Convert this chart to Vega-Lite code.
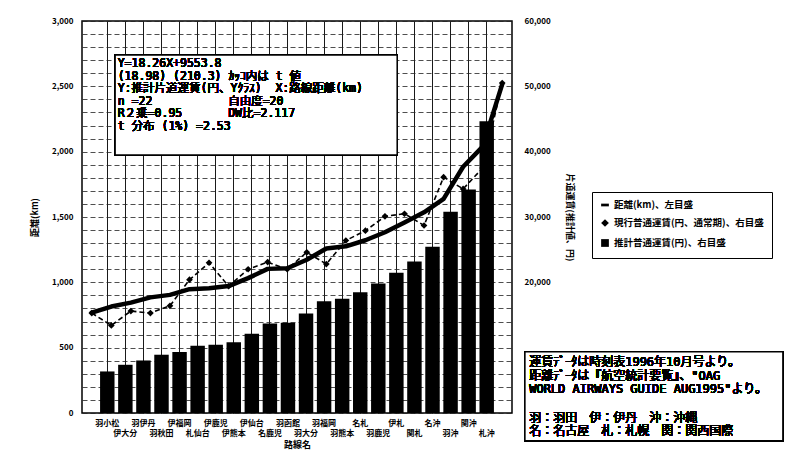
{
  "$schema": "https://vega.github.io/schema/vega-lite/v6.json",
  "width": 430,
  "height": 392,
  "autosize": "none",
  "padding": {"left": 82, "top": 21, "right": 273, "bottom": 51},
  "background": "white",
  "config": {
    "font": "Noto Sans CJK JP",
    "view": {"stroke": "black", "strokeWidth": 1.5},
    "axis": {"labelFont": "Noto Sans CJK JP", "labelFontWeight": "bold", "labelFontSize": 8, "labelColor": "black", "titleFont": "Noto Sans CJK JP", "titleFontWeight": "bold", "titleColor": "black", "titleFontSize": 9}
  },
  "data": {"values": [
    {"route": "羽小松", "distance": 318, "current": 15300, "estimate": 15360},
    {"route": "伊大分", "distance": 369, "current": 13400, "estimate": 16290},
    {"route": "羽伊丹", "distance": 402, "current": 15600, "estimate": 16890},
    {"route": "羽秋田", "distance": 446, "current": 15300, "estimate": 17700},
    {"route": "伊福岡", "distance": 467, "current": 16400, "estimate": 18080},
    {"route": "札仙台", "distance": 515, "current": 20400, "estimate": 18960},
    {"route": "伊鹿児", "distance": 523, "current": 23000, "estimate": 19100},
    {"route": "伊熊本", "distance": 541, "current": 19400, "estimate": 19430},
    {"route": "伊仙台", "distance": 607, "current": 22000, "estimate": 20640},
    {"route": "名鹿児", "distance": 685, "current": 23100, "estimate": 22060},
    {"route": "羽函館", "distance": 690, "current": 22000, "estimate": 22150},
    {"route": "羽大分", "distance": 761, "current": 24600, "estimate": 23450},
    {"route": "羽福岡", "distance": 856, "current": 22800, "estimate": 25180},
    {"route": "羽熊本", "distance": 874, "current": 26400, "estimate": 25510},
    {"route": "名札", "distance": 925, "current": 27900, "estimate": 26440},
    {"route": "羽鹿児", "distance": 992, "current": 30100, "estimate": 27670},
    {"route": "伊札", "distance": 1074, "current": 30500, "estimate": 29160},
    {"route": "関札", "distance": 1159, "current": 28700, "estimate": 30720},
    {"route": "名沖", "distance": 1272, "current": 36100, "estimate": 32780},
    {"route": "羽沖", "distance": 1541, "current": 34300, "estimate": 37690},
    {"route": "関沖", "distance": 1710, "current": 37500, "estimate": 40780},
    {"route": "札沖", "distance": 2233, "current": 50500, "estimate": 50330}
  ]},
  "layer": [
    {
      "mark": {"type": "bar", "color": "black"},
      "encoding": {
        "x": {"field": "route", "type": "nominal", "sort": null,
          "scale": {"paddingInner": 0.2, "paddingOuter": 1.17},
          "axis": {"title": "路線名", "labelAngle": 0, "labelPadding": 6, "ticks": false, "domain": false,
            "labelOverlap": false, "labelLineHeight": 10, "labelBaseline": "top", "titlePadding": 3,
            "labelExpr": "round(datum.index * 21) % 2 == 1 ? ['\u00a0', datum.label] : datum.label",
            "grid": true, "gridColor": "black", "gridWidth": 0.9}},
        "y": {"field": "distance", "type": "quantitative",
          "scale": {"domain": [0, 3000], "nice": false},
          "axis": {"title": "距離(km)", "orient": "left", "values": [0,100,200,300,400,500,600,700,800,900,1000,1100,1200,1300,1400,1500,1600,1700,1800,1900,2000,2100,2200,2300,2400,2500,2600,2700,2800,2900,3000],
            "labelExpr": "datum.value % 500 === 0 ? format(datum.value, ',') : ''",
            "ticks": false, "labelPadding": 9, "domain": false, "titlePadding": 12,
            "grid": true, "gridColor": "#222", "gridDash": [5, 3], "gridWidth": 0.8}}
      }
    },
    {
      "encoding": {
        "x": {"field": "route", "type": "nominal", "sort": null,
          "scale": {"paddingInner": 0.2, "paddingOuter": 1.17}, "axis": null}
      },
      "layer": [
        {
          "mark": {"type": "line", "color": "black", "strokeWidth": 4.5, "strokeCap": "round", "strokeJoin": "round"},
          "encoding": {
            "y": {"field": "estimate", "type": "quantitative",
              "scale": {"domain": [0, 60000], "nice": false},
              "axis": {"orient": "right", "title": "片道運賃(推計値、円)", "values": [20000, 30000, 40000, 50000, 60000],
                "labelExpr": "format(datum.value, ',')", "ticks": false, "labelPadding": 12, "domain": false, "grid": false, "titlePadding": 14}}
          }
        },
        {
          "mark": {"type": "line", "color": "black", "strokeWidth": 1.6, "strokeDash": [5, 3]},
          "encoding": {"y": {"field": "current", "type": "quantitative",
              "axis": {"orient": "right", "title": "片道運賃(推計値、円)", "values": [20000, 30000, 40000, 50000, 60000],
                "labelExpr": "format(datum.value, ',')", "ticks": false, "labelPadding": 12, "domain": false, "grid": false, "titlePadding": 14}}}
        },
        {
          "mark": {"type": "point", "filled": true, "color": "black", "size": 45, "opacity": 1},
          "encoding": {
            "y": {"field": "current", "type": "quantitative",
              "axis": {"orient": "right", "title": "片道運賃(推計値、円)", "values": [20000, 30000, 40000, 50000, 60000],
                "labelExpr": "format(datum.value, ',')", "ticks": false, "labelPadding": 12, "domain": false, "grid": false, "titlePadding": 14}},
            "shape": {"datum": "現行普通運賃(円、通常期)、右目盛", "type": "nominal",
              "scale": {"domain": ["距離(km)、左目盛", "現行普通運賃(円、通常期)、右目盛", "推計普通運賃(円)、右目盛"],
                        "range": ["M-1,-0.35H1V0.35H-1Z", "diamond", "square"]},
              "legend": {"title": null, "orient": "none", "legendX": 510, "legendY": 171,
                "strokeColor": "black", "padding": 8, "rowPadding": 6, "symbolSize": 60,
                "symbolFillColor": "black", "symbolStrokeColor": "black", "symbolOpacity": 1,
                "labelFontSize": 9.5, "labelFontWeight": "bold", "labelColor": "black", "labelFont": "Noto Sans CJK JP", "labelLimit": 300}}
          }
        }
      ]
    },
    {
      "encoding": {
        "x": {"type": "quantitative", "scale": {"domain": [0, 1], "nice": false, "zero": false}, "axis": null},
        "y": {"type": "quantitative", "scale": {"domain": [0, 1], "nice": false, "zero": false}, "axis": null}
      },
      "layer": [
        {
          "mark": {"type": "rect", "fill": "white", "stroke": "black", "strokeWidth": 1.5, "clip": false},
          "encoding": {"x": {"datum": 0.077}, "x2": {"datum": 0.733}, "y": {"datum": 0.913}, "y2": {"datum": 0.658}}
        },
        {
          "mark": {"type": "text", "align": "left", "baseline": "top", "fontSize": 11.5, "lineHeight": 12.5, "color": "black", "font": "DejaVu Sans Mono, Noto Sans CJK JP", "clip": false,
            "text": ["Y=18.26X+9553.8", "(18.98)\u00a0(210.3)\u00a0ｶｯｺ内は\u00a0t\u00a0値", "Y:推計片道運賃(円、Yｸﾗｽ)\u00a0\u00a0X:路線距離(km)", "n\u00a0=22", "R２乗=0.95", "\u00a0t\u00a0分布\u00a0(1%)\u00a0=2.53"]},
          "encoding": {"x": {"datum": 0.083}, "y": {"datum": 0.905}}
        },
        {
          "mark": {"type": "text", "align": "left", "baseline": "top", "fontSize": 11.5, "color": "black", "font": "DejaVu Sans Mono, Noto Sans CJK JP", "clip": false,
            "text": "自由度=20"},
          "encoding": {"x": {"datum": 0.34}, "y": {"datum": 0.8093}}
        },
        {
          "mark": {"type": "text", "align": "left", "baseline": "top", "fontSize": 11.5, "color": "black", "font": "DejaVu Sans Mono, Noto Sans CJK JP", "clip": false,
            "text": "DW比=2.117"},
          "encoding": {"x": {"datum": 0.34}, "y": {"datum": 0.7774}}
        },
        {
          "mark": {"type": "rect", "fill": "white", "stroke": "black", "strokeWidth": 1.5, "clip": false},
          "encoding": {"x": {"datum": 1.03}, "x2": {"datum": 1.63}, "y": {"datum": 0.156}, "y2": {"datum": -0.071}}
        },
        {
          "mark": {"type": "text", "align": "left", "baseline": "top", "fontSize": 12, "lineHeight": 13.5, "color": "black", "font": "DejaVu Sans Mono, Noto Sans CJK JP", "clip": false,
            "text": ["運賃ﾃﾞｰﾀは時刻表1996年10月号より。", "距離ﾃﾞｰﾀは『航空統計要覧』、\"OAG", "WORLD AIRWAYS GUIDE AUG1995\"より。"]},
          "encoding": {"x": {"datum": 1.04}, "y": {"datum": 0.142}}
        },
        {
          "mark": {"type": "text", "align": "left", "baseline": "top", "fontSize": 12, "lineHeight": 13, "color": "black", "font": "DejaVu Sans Mono, Noto Sans CJK JP", "clip": false,
            "text": ["羽：羽田\u3000伊：伊丹\u3000沖：沖縄", "名：名古屋\u3000札：札幌\u3000関：関西国際"]},
          "encoding": {"x": {"datum": 1.04}, "y": {"datum": 0.0}}
        }
      ]
    }
  ],
  "resolve": {"scale": {"x": "independent", "y": "independent"}}
}
